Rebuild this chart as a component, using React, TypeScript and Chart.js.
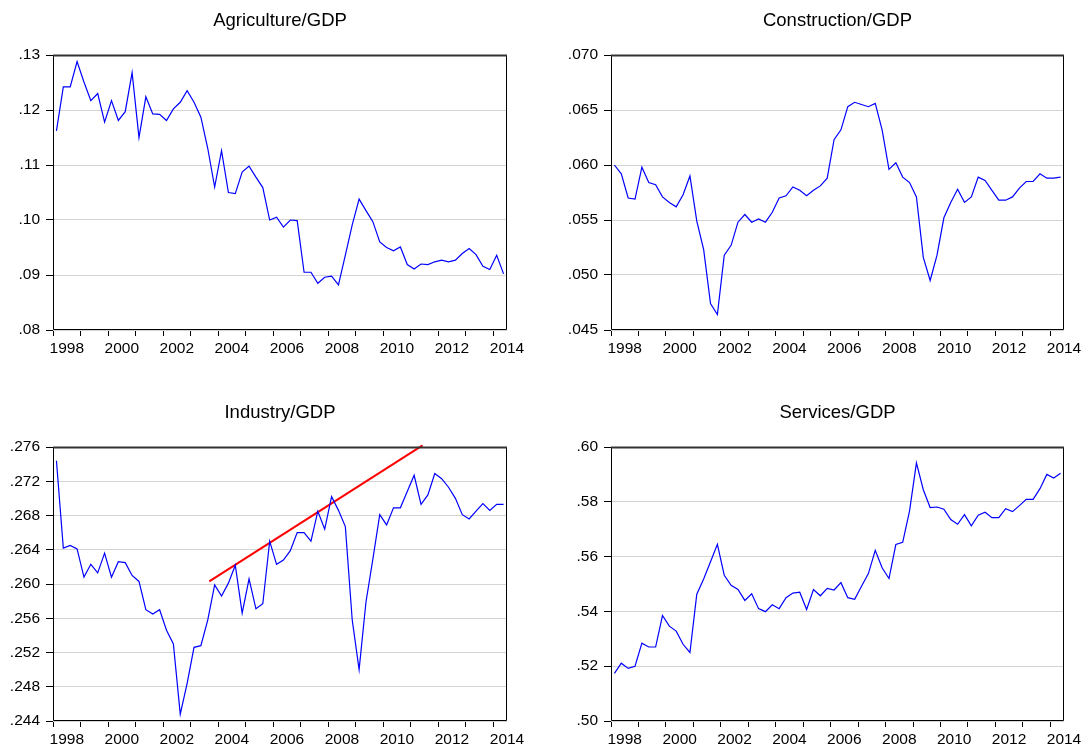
import React, { useEffect, useRef } from 'react';
import { Chart, registerables } from 'chart.js';

Chart.register(...registerables);

// ---------- data ----------
const START_YEAR = 1998; // first quarter: 1998Q1
const X_MIN = 1998;
const X_MAX = 2014.5;
const YEAR_TICKS = [1998, 1999, 2000, 2001, 2002, 2003, 2004, 2005, 2006, 2007, 2008, 2009, 2010, 2011, 2012, 2013, 2014];
const YEAR_LABELS = [1998, 2000, 2002, 2004, 2006, 2008, 2010, 2012, 2014];

const agriculture = [
  0.1162, 0.1242, 0.1242, 0.1288, 0.1251, 0.1217, 0.1230, 0.1178, 0.1217, 0.1181,
  0.1197, 0.1268, 0.1150, 0.1224, 0.1193, 0.1192, 0.1181, 0.1202, 0.1214, 0.1235,
  0.1214, 0.1187, 0.1130, 0.1060, 0.1126, 0.1050, 0.1048, 0.1087, 0.1098, 0.1078,
  0.1059, 0.1000, 0.1005, 0.0987, 0.1000, 0.0999, 0.0905, 0.0905, 0.0885, 0.0896,
  0.0898, 0.0882, 0.0936, 0.0991, 0.1038, 0.1017, 0.0997, 0.0960, 0.0950, 0.0944,
  0.0951, 0.0919, 0.0911, 0.0920, 0.0919, 0.0924, 0.0927, 0.0924, 0.0927, 0.0939,
  0.0948, 0.0937, 0.0916, 0.0910, 0.0936, 0.0902,
];

const construction = [
  0.0600, 0.0592, 0.0570, 0.0569, 0.0598, 0.0584, 0.0582, 0.0571, 0.0566, 0.0562,
  0.0573, 0.0590, 0.0549, 0.0523, 0.0474, 0.0464, 0.0518, 0.0527, 0.0548, 0.0555,
  0.0548, 0.0551, 0.0548, 0.0557, 0.0570, 0.0572, 0.0580, 0.0577, 0.0572, 0.0577,
  0.0581, 0.0588, 0.0623, 0.0632, 0.0653, 0.0657, 0.0655, 0.0653, 0.0656, 0.0632,
  0.0596, 0.0602, 0.0589, 0.0584, 0.0571, 0.0516, 0.0495, 0.0518, 0.0552, 0.0566,
  0.0578, 0.0566, 0.0571, 0.0589, 0.0586, 0.0577, 0.0568, 0.0568, 0.0571, 0.0579,
  0.0585, 0.0585, 0.0592, 0.0588, 0.0588, 0.0589,
];

const industry = [
  0.2744, 0.2642, 0.2645, 0.2641, 0.2608, 0.2623, 0.2613, 0.2636, 0.2608, 0.2626,
  0.2625, 0.2610, 0.2603, 0.2570, 0.2565, 0.2570, 0.2546, 0.2530, 0.2448, 0.2484,
  0.2526, 0.2528, 0.2558, 0.2599, 0.2586, 0.2601, 0.2622, 0.2566, 0.2606, 0.2571,
  0.2577, 0.2650, 0.2623, 0.2628, 0.2639, 0.2660, 0.2660, 0.2650, 0.2685, 0.2664,
  0.2702, 0.2686, 0.2667, 0.2558, 0.2500, 0.2579, 0.2629, 0.2681, 0.2669, 0.2689,
  0.2689, 0.2708, 0.2727, 0.2693, 0.2704, 0.2729, 0.2723, 0.2713, 0.2700, 0.2681,
  0.2676, 0.2685, 0.2694, 0.2686, 0.2693, 0.2693,
];

const services = [
  0.5174, 0.5211, 0.5192, 0.5200, 0.5284, 0.5270, 0.5270, 0.5385, 0.5346, 0.5328,
  0.5280, 0.5250, 0.5463, 0.5518, 0.5581, 0.5645, 0.5532, 0.5495, 0.5480, 0.5440,
  0.5464, 0.5410, 0.5399, 0.5424, 0.5410, 0.5450, 0.5467, 0.5470, 0.5407, 0.5480,
  0.5457, 0.5484, 0.5478, 0.5505, 0.5450, 0.5444, 0.5492, 0.5538, 0.5623, 0.5559,
  0.5520, 0.5644, 0.5652, 0.5767, 0.5942, 0.5844, 0.5779, 0.5781, 0.5773, 0.5735,
  0.5718, 0.5753, 0.5712, 0.5751, 0.5762, 0.5742, 0.5742, 0.5775, 0.5764, 0.5786,
  0.5809, 0.5809, 0.5848, 0.5900, 0.5887, 0.5904,
];

// industry trend line endpoints (year, value)
const trendX = [2003.68, 2011.43];
const trendY = [0.2603, 0.2762];

const agriTicks = [0.08, 0.09, 0.10, 0.11, 0.12, 0.13];
const consTicks = [0.045, 0.050, 0.055, 0.060, 0.065, 0.070];
const indTicks = [0.244, 0.248, 0.252, 0.256, 0.260, 0.264, 0.268, 0.272, 0.276];
const servTicks = [0.50, 0.52, 0.54, 0.56, 0.58, 0.60];

// ---------- helpers ----------
const FONT = "'Liberation Sans', Arial, sans-serif";

function toPoints(values: number[]) {
  // each quarter plotted at its midpoint
  return values.map((v, i) => ({ x: START_YEAR + (i + 0.5) / 4, y: v }));
}

function fmt(v: number, d: number) {
  return v.toFixed(d).replace(/^0/, '');
}

const framePlugin = {
  id: 'frame',
  afterDraw(chart: any) {
    const { ctx, chartArea } = chart;
    const l = Math.round(chartArea.left) + 0.5;
    const r = Math.round(chartArea.right) - 0.5;
    const t = Math.round(chartArea.top) + 0.5;
    const b = Math.round(chartArea.bottom) - 0.5;
    ctx.save();
    ctx.strokeStyle = '#000';
    ctx.lineWidth = 1;
    ctx.beginPath();
    ctx.moveTo(l, b);
    ctx.lineTo(l, t);
    ctx.moveTo(r, t);
    ctx.lineTo(r, b);
    ctx.lineTo(l, b);
    ctx.stroke();
    ctx.strokeStyle = '#333';
    ctx.lineWidth = 2;
    ctx.beginPath();
    ctx.moveTo(l - 0.5, t);
    ctx.lineTo(r + 0.5, t);
    ctx.stroke();
    ctx.restore();
  },
};

const titlePlugin = {
  id: 'panelTitle',
  afterDraw(chart: any, _args: any, opts: any) {
    const { ctx, chartArea } = chart;
    ctx.save();
    ctx.fillStyle = '#000';
    ctx.font = `18.5px ${FONT}`;
    ctx.textAlign = 'center';
    ctx.textBaseline = 'alphabetic';
    ctx.fillText(opts.text, (chartArea.left + chartArea.right) / 2, opts.y);
    ctx.restore();
  },
};

type PanelProps = {
  title: string;
  values: number[];
  yTicks: number[];
  decimals: number;
  left: number;
  top: number;
  width: number;
  height: number;
  area: { left: number; top: number; right: number; bottom: number };
  titleY: number;
  trend?: boolean;
};

function Panel(p: PanelProps) {
  const ref = useRef<HTMLCanvasElement | null>(null);
  useEffect(() => {
    if (!ref.current) return;
    const yMin = p.yTicks[0];
    const yMax = p.yTicks[p.yTicks.length - 1];
    const xTickVals: number[] = [];
    YEAR_TICKS.forEach((y) => xTickVals.push(y));
    YEAR_LABELS.forEach((y) => xTickVals.push(y + 0.5));
    xTickVals.sort((a, b) => a - b);
    const isLabelPos = (v: number) => Math.abs(v - Math.floor(v) - 0.5) < 1e-6;

    const datasets: any[] = [
      {
        data: toPoints(p.values),
        borderColor: '#0000ff',
        borderWidth: 1.2,
        pointRadius: 0,
        tension: 0,
        fill: false,
      },
    ];
    if (p.trend) {
      datasets.push({
        data: trendX.map((x, i) => ({ x, y: trendY[i] })),
        borderColor: '#ff0000',
        borderWidth: 2,
        pointRadius: 0,
        tension: 0,
        fill: false,
        clip: false,
      });
    }

    const chart = new Chart(ref.current, {
      type: 'line',
      data: { datasets },
      options: {
        animation: false,
        responsive: false,
        maintainAspectRatio: false,
        layout: {
          padding: { left: 0, top: p.area.top, right: p.width - p.area.right, bottom: 0 },
        },
        plugins: {
          legend: { display: false },
          tooltip: { enabled: false },
          title: { display: false },
          panelTitle: { text: p.title, y: p.titleY },
        } as any,
        scales: {
          x: {
            type: 'linear',
            min: X_MIN,
            max: X_MAX,
            afterBuildTicks: (s: any) => {
              s.ticks = xTickVals.map((v) => ({ value: v }));
            },
            afterFit: (s: any) => {
              s.height = p.height - p.area.bottom;
            },
            grid: {
              drawOnChartArea: false,
              drawTicks: true,
              tickLength: 6,
              tickColor: (ctx: any) =>
                ctx.tick && !isLabelPos(ctx.tick.value) ? '#000' : 'rgba(0,0,0,0)',
              lineWidth: 1,
            },
            border: { display: false },
            ticks: {
              autoSkip: false,
              maxRotation: 0,
              minRotation: 0,
              padding: 3,
              color: '#000',
              font: { family: FONT, size: 15.5 },
              callback: (v: any) => {
                const n = Number(v);
                return isLabelPos(n) ? String(Math.floor(n)) : '';
              },
            },
          },
          y: {
            type: 'linear',
            min: yMin,
            max: yMax,
            afterBuildTicks: (s: any) => {
              s.ticks = p.yTicks.map((v) => ({ value: v }));
            },
            afterFit: (s: any) => {
              s.width = p.area.left;
            },
            grid: {
              drawOnChartArea: true,
              drawTicks: true,
              tickLength: 7,
              tickColor: '#000',
              color: '#d4d4d4',
              lineWidth: 1,
            },
            border: { display: false },
            ticks: {
              padding: 6,
              color: '#000',
              font: { family: FONT, size: 15.5 },
              callback: (v: any) => fmt(Number(v), p.decimals),
            },
          },
        },
      } as any,
      plugins: [framePlugin, titlePlugin],
    });
    return () => chart.destroy();
  }, []);

  return (
    <canvas
      ref={ref}
      width={p.width}
      height={p.height}
      style={{ position: 'absolute', left: p.left, top: p.top, width: p.width, height: p.height }}
    />
  );
}

export default function App() {
  const W = 543;
  const H = 373;
  return (
    <div
      style={{
        position: 'absolute',
        left: 0,
        top: 0,
        width: 1086,
        height: 746,
        background: '#fff',
        overflow: 'hidden',
      }}
    >
      <Panel
        title="Agriculture/GDP"
        values={agriculture}
        yTicks={agriTicks}
        decimals={2}
        left={0}
        top={0}
        width={W}
        height={H}
        area={{ left: 53, top: 55, right: 507, bottom: 330 }}
        titleY={26}
      />
      <Panel
        title="Construction/GDP"
        values={construction}
        yTicks={consTicks}
        decimals={3}
        left={543}
        top={0}
        width={W}
        height={H}
        area={{ left: 68, top: 55, right: 521, bottom: 330 }}
        titleY={26}
      />
      <Panel
        title="Industry/GDP"
        values={industry}
        yTicks={indTicks}
        decimals={3}
        left={0}
        top={373}
        width={W}
        height={H}
        area={{ left: 53, top: 74, right: 507, bottom: 348 }}
        titleY={45}
        trend
      />
      <Panel
        title="Services/GDP"
        values={services}
        yTicks={servTicks}
        decimals={2}
        left={543}
        top={373}
        width={W}
        height={H}
        area={{ left: 68, top: 74, right: 521, bottom: 348 }}
        titleY={45}
      />
    </div>
  );
}
